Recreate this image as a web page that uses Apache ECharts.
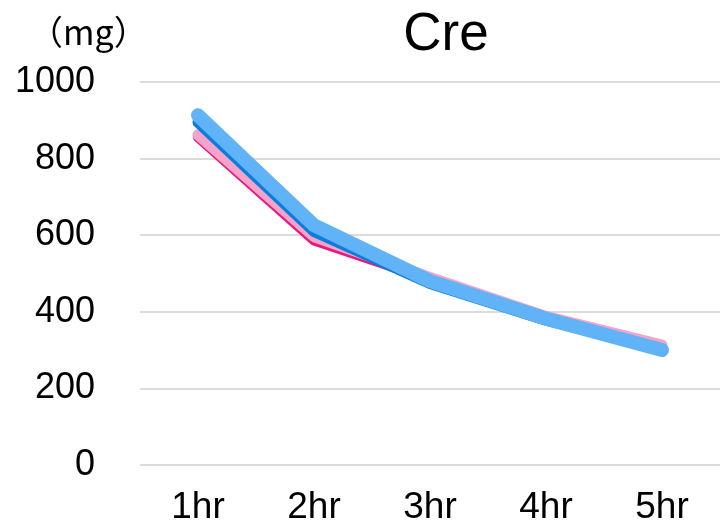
<!DOCTYPE html>
<html>
<head>
<meta charset="utf-8">
<script src="https://cdn.jsdelivr.net/npm/echarts@6/dist/echarts.min.js"></script>
<style>
  html, body { margin: 0; padding: 0; background: #ffffff; }
  #chart { width: 720px; height: 528px; }
</style>
</head>
<body>
<div id="chart"></div>
<script>
// Creatinine amount per hour, four measurement series
const hours = ['1hr', '2hr', '3hr', '4hr', '5hr'];
const yTicks = [0, 200, 400, 600, 800, 1000];
const seriesDarkPink = [856, 586, 484, 386, 310];
const seriesLightPink = [862, 596, 490, 388, 313];
const seriesDarkBlue = [895, 610, 474, 378, 303];
const seriesLightBlue = [913, 626, 480, 382, 300];
const unitText = '（mg）';

const FONT = '"Liberation Sans", Arial, sans-serif';
const CJK = '"Noto Sans CJK JP", sans-serif';

function line(data, color, width) {
  return {
    type: 'line',
    data: data,
    symbol: 'none',
    smooth: false,
    lineStyle: { color: color, width: width, cap: 'round', join: 'round' },
    itemStyle: { color: color }
  };
}

const chart = echarts.init(document.getElementById('chart'));
chart.setOption({
  backgroundColor: '#ffffff',
  animation: false,
  title: {
    text: 'Cre',
    left: 441,
    top: 4,
    textAlign: 'center',
    textStyle: { fontFamily: FONT, fontSize: 53, fontWeight: 'normal', color: '#000' }
  },
  graphic: [{
    type: 'text',
    left: 29,
    top: 15,
    style: { text: unitText, fontFamily: CJK, fontSize: 34, fill: '#000' }
  }],
  grid: { left: 140, right: -5, top: 82, bottom: 63 },
  xAxis: {
    type: 'category',
    data: hours,
    boundaryGap: true,
    axisLine: { show: false },
    axisTick: { show: false },
    axisLabel: { fontFamily: FONT, fontSize: 37, color: '#000', margin: 24 }
  },
  yAxis: {
    type: 'value',
    min: yTicks[0],
    max: yTicks[yTicks.length - 1],
    interval: 200,
    axisLine: { show: false },
    axisTick: { show: false },
    axisLabel: {
      fontFamily: FONT, fontSize: 36, color: '#000', margin: 45,
      formatter: function (v) { return String(v); }
    },
    splitLine: { lineStyle: { color: '#dcdcdc', width: 2 } }
  },
  series: [
    line(seriesDarkPink, '#e8197a', 10),
    line(seriesLightPink, '#f5a3c9', 11),
    line(seriesDarkBlue, '#0b7ddf', 11),
    line(seriesLightBlue, '#60b3f6', 14)
  ]
});
</script>
</body>
</html>
